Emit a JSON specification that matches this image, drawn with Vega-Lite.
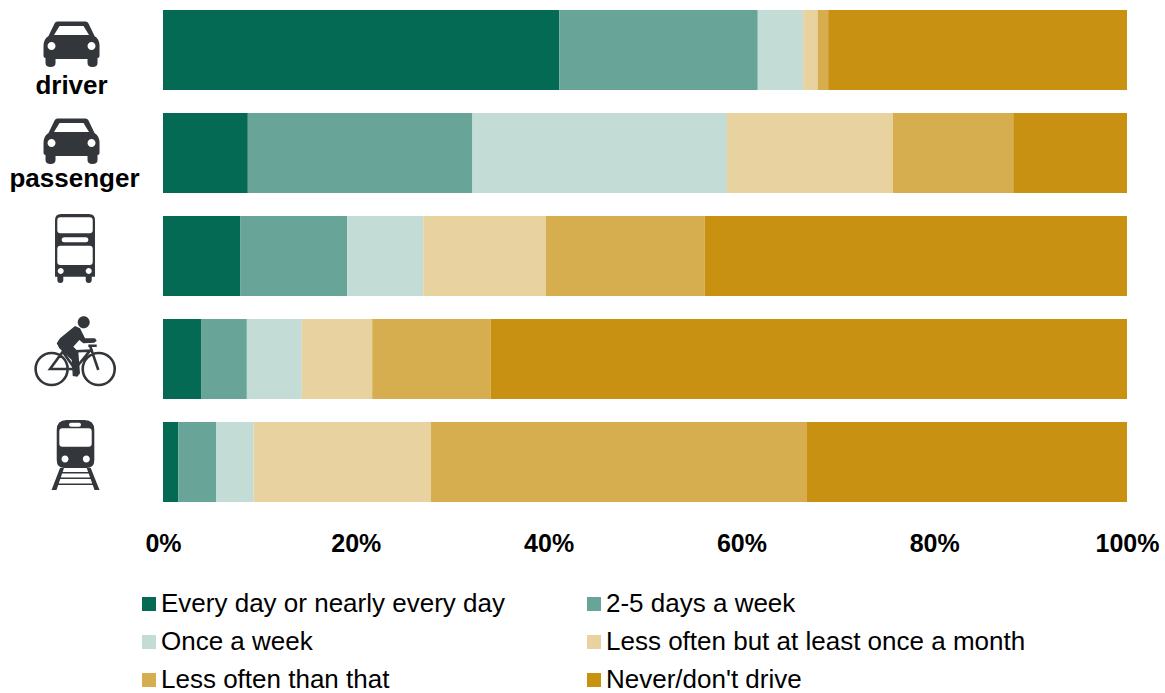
{
  "$schema": "https://vega.github.io/schema/vega-lite/v6.json",
  "autosize": "none",
  "width": 964,
  "height": 512,
  "padding": {"left": 163, "top": 0, "right": 38, "bottom": 181},
  "background": "white",
  "config": {"view": {"stroke": null}, "font": "Liberation Sans"},
  "datasets": {
    "usage": [
      {"mode": "driver", "frequency": "Every day or nearly every day", "rank": 1, "share": 41.1},
      {"mode": "driver", "frequency": "2-5 days a week", "rank": 2, "share": 20.6},
      {"mode": "driver", "frequency": "Once a week", "rank": 3, "share": 4.7},
      {"mode": "driver", "frequency": "Less often but at least once a month", "rank": 4, "share": 1.5},
      {"mode": "driver", "frequency": "Less often than that", "rank": 5, "share": 1.1},
      {"mode": "driver", "frequency": "Never/don't drive", "rank": 6, "share": 31.0},
      {"mode": "passenger", "frequency": "Every day or nearly every day", "rank": 1, "share": 8.8},
      {"mode": "passenger", "frequency": "2-5 days a week", "rank": 2, "share": 23.3},
      {"mode": "passenger", "frequency": "Once a week", "rank": 3, "share": 26.4},
      {"mode": "passenger", "frequency": "Less often but at least once a month", "rank": 4, "share": 17.2},
      {"mode": "passenger", "frequency": "Less often than that", "rank": 5, "share": 12.5},
      {"mode": "passenger", "frequency": "Never/don't drive", "rank": 6, "share": 11.8},
      {"mode": "bus", "frequency": "Every day or nearly every day", "rank": 1, "share": 8.0},
      {"mode": "bus", "frequency": "2-5 days a week", "rank": 2, "share": 11.1},
      {"mode": "bus", "frequency": "Once a week", "rank": 3, "share": 7.9},
      {"mode": "bus", "frequency": "Less often but at least once a month", "rank": 4, "share": 12.7},
      {"mode": "bus", "frequency": "Less often than that", "rank": 5, "share": 16.5},
      {"mode": "bus", "frequency": "Never/don't drive", "rank": 6, "share": 43.8},
      {"mode": "bicycle", "frequency": "Every day or nearly every day", "rank": 1, "share": 4.0},
      {"mode": "bicycle", "frequency": "2-5 days a week", "rank": 2, "share": 4.7},
      {"mode": "bicycle", "frequency": "Once a week", "rank": 3, "share": 5.7},
      {"mode": "bicycle", "frequency": "Less often but at least once a month", "rank": 4, "share": 7.3},
      {"mode": "bicycle", "frequency": "Less often than that", "rank": 5, "share": 12.3},
      {"mode": "bicycle", "frequency": "Never/don't drive", "rank": 6, "share": 66.0},
      {"mode": "train", "frequency": "Every day or nearly every day", "rank": 1, "share": 1.6},
      {"mode": "train", "frequency": "2-5 days a week", "rank": 2, "share": 3.9},
      {"mode": "train", "frequency": "Once a week", "rank": 3, "share": 3.9},
      {"mode": "train", "frequency": "Less often but at least once a month", "rank": 4, "share": 18.4},
      {"mode": "train", "frequency": "Less often than that", "rank": 5, "share": 39.0},
      {"mode": "train", "frequency": "Never/don't drive", "rank": 6, "share": 33.2}
    ],
    "modes": [
      {"mode": "driver"},
      {"mode": "passenger"},
      {"mode": "bus"},
      {"mode": "bicycle"},
      {"mode": "train"}
    ]
  },
  "layer": [
    {
      "data": {"name": "usage"},
      "mark": {"type": "bar"},
      "encoding": {
        "y": {
          "field": "mode", "type": "nominal", "axis": null,
          "scale": {"domain": ["driver", "passenger", "bus", "bicycle", "train"], "paddingInner": 0.223, "paddingOuter": 0.097}
        },
        "x": {
          "field": "share", "type": "quantitative", "stack": "zero",
          "scale": {"domain": [0, 100], "nice": false},
          "axis": {
            "title": null, "values": [0, 20, 40, 60, 80, 100], "grid": false, "domain": false, "ticks": false,
            "labelExpr": "datum.value + '%'", "labelFontSize": 25, "labelFontWeight": "bold", "labelColor": "#000000",
            "labelPadding": 19, "labelFlush": false, "labelOverlap": false
          }
        },
        "order": {"field": "rank", "type": "ordinal"},
        "color": {
          "field": "frequency", "type": "nominal",
          "scale": {
            "domain": ["Every day or nearly every day", "2-5 days a week", "Once a week", "Less often but at least once a month", "Less often than that", "Never/don't drive"],
            "range": ["#046a54", "#68a598", "#c3dcd6", "#e8d3a0", "#d6ae50", "#c89111"]
          },
          "legend": {
            "title": null, "orient": "none", "legendX": -27, "legendY": 591, "columns": 2, "columnPadding": 76, "rowPadding": 12,
            "values": ["Every day or nearly every day", "Once a week", "Less often than that", "2-5 days a week", "Less often but at least once a month", "Never/don't drive"],
            "symbolType": "square", "symbolSize": 196, "symbolStrokeWidth": 0, "labelFontSize": 26, "labelColor": "#000000", "labelOffset": -1, "labelLimit": 500, "gridAlign": "each"
          }
        }
      }
    },
    {
      "data": {"name": "modes"},
      "mark": {"type": "point", "filled": true, "fill": "#33363b", "stroke": null, "strokeWidth": 0, "size": 4, "opacity": 1},
      "encoding": {
        "y": {"field": "mode", "type": "nominal"},
        "x": {"datum": -9.49},
        "shape": {
          "field": "mode", "type": "nominal", "legend": null,
          "scale": {
            "domain": ["driver", "passenger", "bus", "bicycle", "train"],
            "range": [
              "M-14,-28.5 l28,0 q2,0 3,2 l6,12.5 q5,3 5,10 l0,10 q0,2 -2,2 l0,5 q0,4 -5,4 q-5,0 -5,-4 l0,-4 l-32,0 l0,4 q0,4 -5,4 q-5,0 -5,-4 l0,-5 q-2,0 -2,-2 l0,-10 q0,-7 5,-10 l6,-12.5 q1,-2 3,-2 z M-12,-24 l-5.5,9 l35,0 l-5.5,-9 z M-24,-4 a4,4 0 1 0 8,0 a4,4 0 1 0 -8,0 z M16,-4 a4,4 0 1 0 8,0 a4,4 0 1 0 -8,0 z",
              "M-14,-34.5 l28,0 q2,0 3,2 l6,12.5 q5,3 5,10 l0,10 q0,2 -2,2 l0,5 q0,4 -5,4 q-5,0 -5,-4 l0,-4 l-32,0 l0,4 q0,4 -5,4 q-5,0 -5,-4 l0,-5 q-2,0 -2,-2 l0,-10 q0,-7 5,-10 l6,-12.5 q1,-2 3,-2 z M-12,-30 l-5.5,9 l35,0 l-5.5,-9 z M-24,-10 a4,4 0 1 0 8,0 a4,4 0 1 0 -8,0 z M16,-10 a4,4 0 1 0 8,0 a4,4 0 1 0 -8,0 z",
              "M-10.5,-42 l28,0 q6,0 6,6 l0,56.7 l-3.3,0 l0,3.3 q0,3 -3,3 q-3,0 -3,-3 l0,-3.3 l-22.4,0 l0,3.3 q0,3 -3,3 q-3,0 -3,-3 l0,-3.3 l-2.3,0 l0,-56.7 q0,-6 6,-6 z M-11.2,-38.7 q-3,0 -3,3 l0,10 q0,3 3,3 l29.4,0 q3,0 3,-3 l0,-10 q0,-3 -3,-3 z M-7.3,-18.7 q-2.5,0 -2.5,2.5 q0,2.5 2.5,2.5 l21.6,0 q2.5,0 2.5,-2.5 q0,-2.5 -2.5,-2.5 z M-11.2,-10.3 q-3,0 -3,3 l0,13.3 q0,3 3,3 l29.4,0 q3,0 3,-3 l0,-13.3 q0,-3 -3,-3 z M-13.8,15 a3,3 0 1 0 6,0 a3,3 0 1 0 -6,0 z M14.2,15 a3,3 0 1 0 6,0 a3,3 0 1 0 -6,0 z",
              "M6.2,-36.7 a6,6 0 1 1 12,0 a6,6 0 1 1 -12,0 z M3.5,-33 L8.5,-30.7 L13.5,-20.7 L23.5,-20.7 L25.2,-18.3 L22.8,-16.3 L11.8,-15.7 L7.8,-19 L1.8,-12.3 L6.8,-7.3 L8.5,14.3 L5.8,17.7 L1.2,17 L0.2,1 L-12.2,-10.7 L-14.8,-15.7 L-11.5,-20.7 z",
              "M-4.8,-42 l17.6,0 q10,0 10,10 l0,30 q0,8 -8,8 l-21.6,0 q-8,0 -8,-8 l0,-30 q0,-10 10,-10 z M-9.2,-33.7 q-3,0 -3,3 l0,12.4 q0,3 3,3 l26.4,0 q3,0 3,-3 l0,-12.4 q0,-3 -3,-3 z M-0.5,-39.3 q-2,0 -2,2 q0,2 2,2 l8,0 q2,0 2,-2 q0,-2 -2,-2 z M-10,-3 a3.5,3.5 0 1 0 7,0 a3.5,3.5 0 1 0 -7,0 z M11.3,-3 a3.5,3.5 0 1 0 7,0 a3.5,3.5 0 1 0 -7,0 z M-11.5,6 L-7.5,6 L-15,28 L-20,28 z M15.2,6 L19.2,6 L28,28 L23,28 z M-13,10 L21,10 L21,11.4 L-13,11.4 z M-15,15.6 L23,15.6 L23,17 L-15,17 z M-17,21.6 L25,21.6 L25,23 L-17,23 z"
            ]
          }
        }
      }
    },
    {
      "data": {"name": "modes"},
      "transform": [{"filter": "datum.mode === 'bicycle'"}],
      "mark": {
        "type": "point", "filled": false, "fill": null, "stroke": "#33363b", "strokeWidth": 2.6, "size": 4, "opacity": 1,
        "shape": "M-35.9,10 a16,16 0 1 1 32,0 a16,16 0 1 1 -32,0 z M11.2,10 a16,16 0 1 1 32,0 a16,16 0 1 1 -32,0 z M-21.5,10 L-8.8,-7.3 L3.5,10 z M-8.8,-7.3 L18.5,-8.3 L3.5,10 M18.5,-13.3 L26.8,11 M16.8,-13.3 L25.2,-13.3"
      },
      "encoding": {
        "y": {"field": "mode", "type": "nominal"},
        "x": {"datum": -9.49}
      }
    },
    {
      "data": {"name": "modes"},
      "transform": [{"filter": "datum.mode === 'driver'"}],
      "mark": {"type": "text", "fontSize": 26, "fontWeight": "bold", "color": "#000000", "align": "center", "baseline": "middle", "dy": 36},
      "encoding": {
        "y": {"field": "mode", "type": "nominal"},
        "x": {"datum": -9.49},
        "text": {"field": "mode"}
      }
    },
    {
      "data": {"name": "modes"},
      "transform": [{"filter": "datum.mode === 'passenger'"}],
      "mark": {"type": "text", "fontSize": 26, "fontWeight": "bold", "color": "#000000", "align": "center", "baseline": "middle", "dy": 26, "dx": 3},
      "encoding": {
        "y": {"field": "mode", "type": "nominal"},
        "x": {"datum": -9.49},
        "text": {"field": "mode"}
      }
    }
  ]
}
